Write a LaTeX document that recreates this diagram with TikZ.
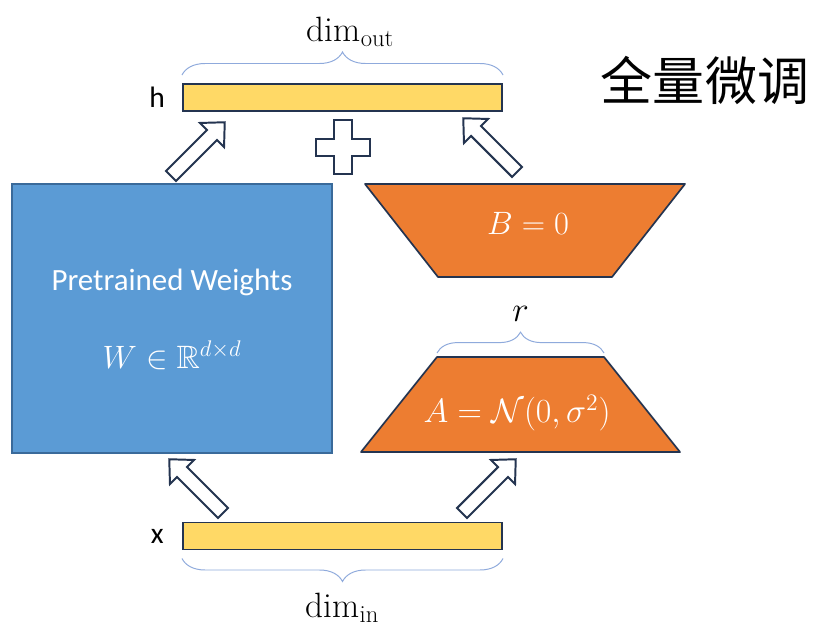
\documentclass[tikz,border=0pt]{standalone}
\usepackage{fix-cm}
\usepackage{amssymb}
\usepackage{fontspec}
\setsansfont{Carlito}
\newfontfamily\cjk{Noto Sans CJK SC}
\usetikzlibrary{positioning,decorations.pathreplacing}

\definecolor{barfill}{HTML}{FFD966}
\definecolor{edgenavy}{HTML}{243450}
\definecolor{wblue}{HTML}{5B9BD5}
\definecolor{wedge}{HTML}{3A6A9A}
\definecolor{lorange}{HTML}{ED7D31}
\definecolor{bracecol}{HTML}{8FAADC}

% hollow block arrow: start point, angle
\newcommand{\hollowarrow}[2]{%
  \draw[harrow, shift={#1}, rotate=#2]
    (0,-7) -- (58,-7) -- (58,-17) -- (76,0) -- (58,17) -- (58,7) -- (0,7) -- cycle;}

\begin{document}
\begin{tikzpicture}[
    x=0.025cm, y=0.025cm,
    vec/.style={rectangle, draw=edgenavy, fill=barfill, line width=1.4pt, inner sep=0pt, minimum width=7.975cm, minimum height=0.675cm},
    lbl/.style={inner sep=0pt, font=\sffamily\fontsize{21}{25}\selectfont},
    intext/.style={inner sep=0pt, text=white, font=\fontsize{22}{26}\selectfont},
    mathlbl/.style={inner sep=0pt, font=\fontsize{25}{29}\selectfont},
    lora/.style={draw=edgenavy, fill=lorange, line width=1.2pt, line join=round},
    harrow/.style={draw=edgenavy, fill=white, line width=1.4pt, line join=miter},
    brace/.style={draw=bracecol, line width=0.7pt, decorate, decoration={brace, amplitude=#1}}
]
    \useasboundingbox[fill=white] (0,0) rectangle (815,626);

    % input / output vectors
    \node[vec] (hbar) at (342.5,528.5) {};
    \node[vec] (xbar) at (342.5,90) {};
    \node[lbl, left=0.42cm of hbar] (hlbl) {h};
    \node[lbl, left=0.45cm of xbar] (xlbl) {x};

    \draw[brace=0.575cm] ([yshift=0.2cm]hbar.north west) -- ([yshift=0.2cm]hbar.north east)
        node[midway, mathlbl, above=0.7cm, xshift=0.2cm] (dimout) {$\mathrm{dim}_{\mathrm{out}}$};
    \draw[brace=0.575cm] ([yshift=-0.2cm]xbar.south east) -- ([yshift=-0.2cm]xbar.south west)
        node[midway, mathlbl, below=0.85cm] (dimin) {$\mathrm{dim}_{\mathrm{in}}$};

    % pretrained weights
    \node[rectangle, draw=wedge, fill=wblue, line width=1.2pt, minimum width=8cm, minimum height=6.725cm] (wbox) at (172,307.5) {};
    \node[intext, font=\sffamily\fontsize{22}{26}\selectfont] (wname) at (172,344) {Pretrained Weights};
    \node[intext, font=\fontsize{23}{27}\selectfont] (wmath) at (172,271) {$W \in \mathbb{R}^{d\times d}$};

    % low-rank branch
    \coordinate (btl) at (365,442); \coordinate (btr) at (685,442);
    \coordinate (bbr) at (612,349); \coordinate (bbl) at (438,349);
    \draw[lora] (btl) -- (btr) -- (bbr) -- (bbl) -- cycle;
    \node[intext, font=\fontsize{23}{27}\selectfont] (bmath) at (528,403) {$B = 0$};

    \coordinate (atl) at (437,269); \coordinate (atr) at (604,269);
    \coordinate (abr) at (680,174); \coordinate (abl) at (361,174);
    \draw[lora] (atl) -- (atr) -- (abr) -- (abl) -- cycle;
    \node[intext, font=\fontsize{24}{28}\selectfont] (amath) at (517,213) {$A = \mathcal{N}(0,\sigma^2)$};

    \draw[brace=0.52cm] ([yshift=0.1cm]atl) -- ([yshift=0.1cm]atr)
        node[midway, mathlbl, above=0.78cm] (rlbl) {$r$};

    % plus sign
    \draw[harrow] (334,506) -- (352,506) -- (352,487) -- (370,487) -- (370,470) -- (352,470)
        -- (352,452) -- (334,452) -- (334,470) -- (316,470) -- (316,487) -- (334,487) -- cycle;

    % hollow arrows
    \hollowarrow{(171,450)}{45}
    \hollowarrow{(517,454)}{135}
    \hollowarrow{(223,113)}{135}
    \hollowarrow{(462,113)}{45}

    % title
    \node[inner sep=0pt, font=\cjk\fontsize{37}{40}\selectfont] (title) at (705,546) {全量微调};
\end{tikzpicture}
\end{document}
